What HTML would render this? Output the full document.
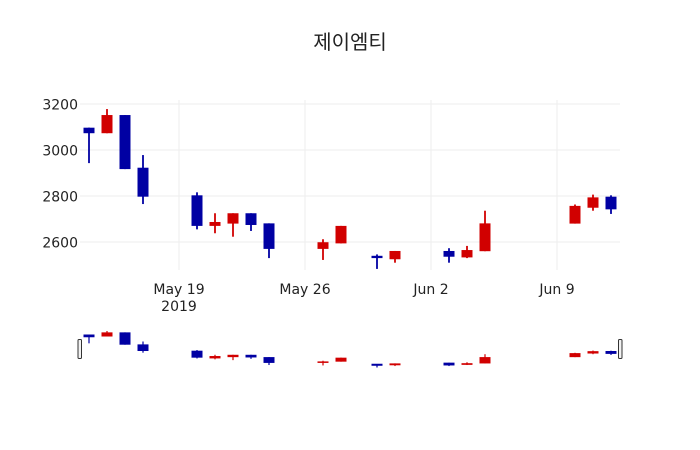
<!DOCTYPE html>
<html><head><meta charset="utf-8"><style>body{margin:0;background:#fff}svg{display:block;font-family:"DejaVu Sans","Noto Sans CJK KR",sans-serif}</style></head>
<body>
<svg id="s" width="700" height="450" xmlns="http://www.w3.org/2000/svg">
<rect width="700" height="450" fill="#fff"/>
<text x="350" y="49" text-anchor="middle" font-size="20" fill="#222">제이엠티</text>
<g stroke="#eee" stroke-width="1">
<line x1="80" x2="620" y1="104" y2="104"/><line x1="80" x2="620" y1="150" y2="150"/>
<line x1="80" x2="620" y1="196" y2="196"/><line x1="80" x2="620" y1="242" y2="242"/>
<line x1="179" x2="179" y1="100" y2="270"/><line x1="305" x2="305" y1="100" y2="270"/>
<line x1="431" x2="431" y1="100" y2="270"/><line x1="557" x2="557" y1="100" y2="270"/>
</g>
<g font-size="14" fill="#222" text-anchor="end">
<text x="78" y="109.5">3200</text><text x="78" y="155.5">3000</text><text x="78" y="201.5">2800</text><text x="78" y="247.5">2600</text>
</g>
<g font-size="14" fill="#222" text-anchor="middle">
<text x="179" y="294">May 19</text><text x="179" y="311">2019</text>
<text x="305" y="294">May 26</text><text x="431" y="294">Jun 2</text><text x="557" y="294">Jun 9</text>
</g>
<g id="main"></g><g id="sl"></g>
<rect x="78" y="339.5" width="3.5" height="19" fill="#f2f2f2" stroke="#333" stroke-width="1" rx="1"/>
<rect x="618.5" y="339.5" width="3.5" height="19" fill="#f2f2f2" stroke="#333" stroke-width="1" rx="1"/>
</svg>
<script>
var d=[[-5,3097,3097,2943,3073],[-4,3073,3178,3073,3152],[-3,3152,3152,2917,2917],[-2,2923,2978,2765,2797],
[1,2803,2816,2655,2670],[2,2670,2725,2638,2687],[3,2680,2725,2623,2725],[4,2725,2725,2648,2674],[5,2681,2681,2530,2570],
[8,2570,2612,2522,2599],[9,2594,2670,2594,2670],[11,2540,2546,2483,2530],[12,2525,2561,2510,2561],
[15,2561,2573,2510,2536],[16,2533,2583,2530,2565],[17,2560,2736,2560,2681],[22,2680,2763,2680,2757],[23,2749,2806,2736,2794],[24,2797,2803,2722,2742]];
var ns="http://www.w3.org/2000/svg";
function add(g,t,a){var e=document.createElementNS(ns,t);for(var k in a)e.setAttribute(k,a[k]);document.getElementById(g).appendChild(e);}
d.forEach(function(c){var x=179+18*c[0],up=c[4]>=c[1],col=up?"#d10000":"#0000a3";
function Y(v){return 104+(3200-v)*0.23;}function S(v){return 331+(3178-v)*0.0525;}
[[Y,"main",1.8],[S,"sl",1.2]].forEach(function(p){var f=p[0],hi=Math.max(c[1],c[4]),lo=Math.min(c[1],c[4]);
add(p[1],"line",{x1:x,x2:x,y1:f(c[2]),y2:f(c[3]),stroke:col,"stroke-width":p[2]});
var t=f(hi),b=f(lo);if(b-t<1.5){t-=0.75;b+=0.75;}
add(p[1],"rect",{x:x-5.5,y:t,width:11,height:b-t,fill:col});});});
</script>
</body></html>
